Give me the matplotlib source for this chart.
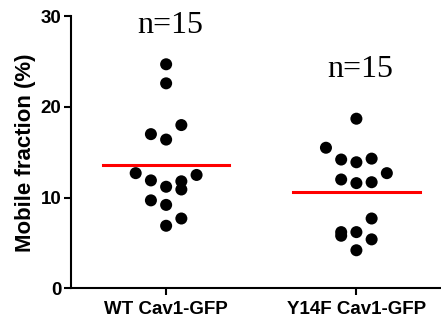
import numpy as np
import matplotlib.pyplot as plt

# --- Data ---
groups = ['WT Cav1-GFP', 'Y14F Cav1-GFP']
wt_vals = [24.7, 22.6, 18.0, 17.0, 16.4, 12.7, 12.5, 11.9, 11.8, 11.2, 10.9, 9.7, 9.2, 7.7, 6.9]
wt_offs = [0, 0, 1, -1, 0, -2, 2, -1, 1, 0, 1, -1, 0, 1, 0]
y14f_vals = [18.7, 15.5, 14.2, 13.9, 14.3, 12.7, 12.0, 11.6, 11.7, 7.7, 6.2, 5.8, 6.2, 5.4, 4.2]
y14f_offs = [0, -2, -1, 0, 1, 2, -1, 0, 1, 1, -1, -1, 0, 1, 0]
means = [13.55, 10.65]
n_labels = ['n=15', 'n=15']
n_label_y = [28.1, 23.3]

fig = plt.figure(figsize=(4.41, 3.24), dpi=100)
ax = fig.add_axes([0.161, 0.110, 0.837, 0.840])

step = 0.08  # horizontal scatter spacing
for i, (vals, offs) in enumerate([(wt_vals, wt_offs), (y14f_vals, y14f_offs)]):
    xs = i + np.array(offs) * step
    ax.scatter(xs, vals, s=75, color='black', edgecolors='none', zorder=3)
    ax.plot([i - 0.333, i + 0.333], [means[i], means[i]], color='red', lw=2.2, zorder=4)
    ax.text(i + 0.02, n_label_y[i], n_labels[i], ha='center', va='baseline',
            fontsize=23, family='Liberation Serif')

ax.set_xlim(-0.5, 1.44)
ax.set_ylim(0, 30)
ax.set_yticks([0, 10, 20, 30])
ax.set_xticks([0, 1])
ax.set_xticklabels(groups, fontsize=13.5, fontweight='bold', family='Liberation Sans')
for lab in ax.get_yticklabels():
    lab.set_fontsize(13.5)
    lab.set_fontweight('bold')
    lab.set_family('Liberation Sans')
ax.set_ylabel('Mobile fraction (%)', fontsize=16, fontweight='bold', family='Liberation Sans', labelpad=3)

ax.spines['top'].set_visible(False)
ax.spines['right'].set_visible(False)
ax.spines['left'].set_linewidth(1.5)
ax.spines['bottom'].set_linewidth(1.5)
ax.tick_params(axis='both', width=1.5, length=5, pad=2)
ax.tick_params(axis='x', pad=4)

fig.savefig('out.png', dpi=100)
